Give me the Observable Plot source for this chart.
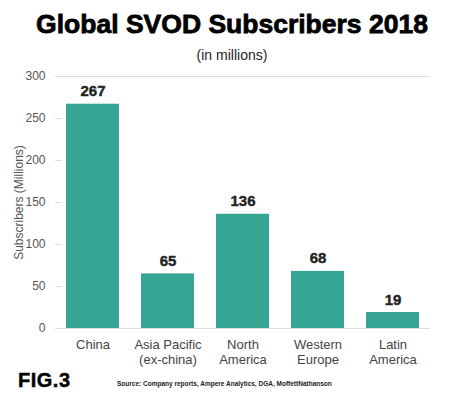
<!DOCTYPE html>
<html>
<head>
<meta charset="utf-8">
<script src="https://cdn.jsdelivr.net/npm/d3@7"></script>
<script src="https://cdn.jsdelivr.net/npm/@observablehq/plot@0.6"></script>
<style>
  html, body { margin: 0; padding: 0; background: #fff; }
  #wrap { position: relative; width: 450px; height: 395px; overflow: hidden; font-family: "Liberation Sans", Arial, sans-serif; }
  #title { position: absolute; left: 0; width: 464px; top: 9px; text-align: center; font-size: 26.5px; font-weight: 900; color: #000; -webkit-text-stroke: 0.8px #000; white-space: nowrap; }
  #subtitle { position: absolute; left: 0; width: 464px; top: 47px; text-align: center; font-size: 14px; color: #222; }
  #chart { position: absolute; left: 0; top: 64px; }
  #fig { position: absolute; left: 18px; top: 369px; font-size: 20px; font-weight: bold; color: #000; -webkit-text-stroke: 0.4px #000; letter-spacing: 0.5px; }
  #source { position: absolute; left: 117px; top: 380px; font-size: 6.5px; font-weight: bold; color: #222; white-space: nowrap; }
</style>
</head>
<body>
<div id="wrap">
  <div id="title">Global SVOD Subscribers 2018</div>
  <div id="subtitle">(in millions)</div>
  <div id="chart"></div>
  <div id="fig">FIG.3</div>
  <div id="source">Source: Company reports, Ampere Analytics, DGA, MoffettNathanson</div>
</div>
<script>
const regions = ["China", "Asia Pacific\n(ex-china)", "North\nAmerica", "Western\nEurope", "Latin\nAmerica"];
const subscribers = [267, 65, 136, 68, 19];
const yTicks = [0, 50, 100, 150, 200, 250, 300];
const frameLines = [0, 300];
const shortTicks = [50, 100, 150, 200, 250];

const data = regions.map((r, i) => ({region: r, value: subscribers[i]}));

const chart = Plot.plot({
  width: 450,
  height: 304,
  marginTop: 12,
  marginBottom: 40,
  marginLeft: 55,
  marginRight: 20,
  style: {fontFamily: "Liberation Sans, Arial, sans-serif", background: "#fff"},
  x: {domain: regions, paddingInner: 0.3, paddingOuter: 0.15},
  y: {domain: [0, 300]},
  marks: [
    Plot.ruleY(frameLines, {stroke: "#ddd", strokeWidth: 1}),
    Plot.ruleY(shortTicks, {stroke: "#ddd", strokeWidth: 1, insetRight: 368}),
    Plot.barY(data, {x: "region", y: "value", fill: "#37a593"}),
    Plot.text(data, {x: "region", y: "value", text: d => String(d.value), dy: -8, lineAnchor: "bottom", fontSize: 15, fontWeight: 900, fill: "#222", stroke: "#222", strokeWidth: 0.4}),
    Plot.axisX({tickSize: 0, tickPadding: 9, fontSize: 13, fill: "#444", lineHeight: 1.2, label: null}),
    Plot.axisY({ticks: yTicks, tickSize: 0, tickPadding: 10, fontSize: 12, fill: "#555", label: "Subscribers (Millions)", labelAnchor: "center", labelArrow: "none", labelOffset: 41})
  ]
});
document.getElementById("chart").appendChild(chart);
</script>
</body>
</html>
